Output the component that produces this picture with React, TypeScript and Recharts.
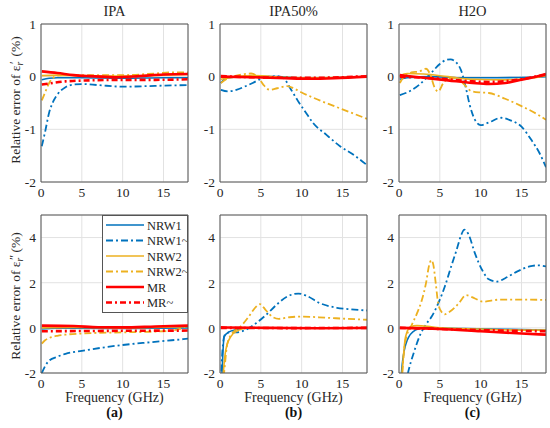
import { LineChart, Line, XAxis, YAxis, CartesianGrid, ReferenceLine } from 'recharts';

type Pt = [number, number];

const FONT = "'Liberation Serif', 'Times New Roman', serif";
const FREQ_TICKS = [0, 5, 10, 15];
const RE_TICKS = [-2, -1, 0, 1];
const IM_TICKS = [-2, 0, 2, 4];
const TITLES = ['IPA', 'IPA50%', 'H2O'];
const LETTERS = ['(a)', '(b)', '(c)'];
const NAMES = ['NRW1', 'NRW1~', 'NRW2', 'NRW2~', 'MR', 'MR~'];

// --- IPA, real part ---
const ipaReNrw1: Pt[] = [[0.1, -0.06], [1, -0.03], [2, -0.02], [5, -0.02], [10, -0.03], [15, -0.02], [18, -0.02]];
const ipaReNrw1t: Pt[] = [[0.1, -1.32], [0.5, -1.05], [1, -0.68], [1.5, -0.47], [2, -0.34], [3, -0.2], [4, -0.15], [5, -0.14], [7, -0.16], [10, -0.19], [13, -0.18], [15, -0.17], [18, -0.16]];
const ipaReNrw2: Pt[] = [[0.1, 0.02], [2, 0.03], [5, 0.02], [10, 0.01], [15, 0.03], [18, 0.04]];
const ipaReNrw2t: Pt[] = [[0.1, -0.45], [0.5, -0.3], [1, -0.12], [1.5, -0.02], [2, 0.02], [3, 0.03], [5, 0.03], [10, 0.03], [14, 0.06], [16, 0.08], [18, 0.08]];
const ipaReMr: Pt[] = [[0.1, 0.1], [2, 0.07], [4, 0.03], [6, 0.01], [9, -0.01], [12, 0.01], [15, 0.04], [18, 0.05]];
const ipaReMrt: Pt[] = [[0.1, -0.15], [1, -0.13], [3, -0.09], [6, -0.07], [10, -0.06], [14, -0.06], [18, -0.05]];

// --- IPA50%, real part ---
const ipa50ReNrw1: Pt[] = [[0.1, -0.12], [0.5, -0.05], [1, -0.02], [3, 0], [7, 0], [10, -0.02], [14, -0.02], [18, 0]];
const ipa50ReNrw1t: Pt[] = [[0.1, -0.25], [1, -0.28], [2, -0.25], [3, -0.19], [4, -0.12], [5, -0.04], [6, 0.0], [7, 0.01], [7.8, -0.03], [8.6, -0.22], [9.5, -0.45], [10.5, -0.68], [11.4, -0.88], [13, -1.1], [14.7, -1.32], [16.5, -1.5], [18, -1.68]];
const ipa50ReNrw2: Pt[] = [[0.1, -0.05], [2, 0.0], [4, 0.02], [8, -0.01], [12, -0.02], [18, 0.0]];
const ipa50ReNrw2t: Pt[] = [[0.1, -0.12], [1, -0.03], [2, 0.02], [3, 0.05], [3.8, 0.06], [4.6, 0.0], [5.3, -0.15], [6.1, -0.25], [7, -0.22], [8.2, -0.18], [9, -0.22], [10, -0.3], [12.2, -0.45], [15, -0.62], [18, -0.8]];
const ipa50ReMr: Pt[] = [[0.1, 0.0], [4, -0.01], [8, -0.03], [11, -0.04], [14, -0.03], [18, 0.0]];
const ipa50ReMrt: Pt[] = [[0.1, 0.01], [4, -0.01], [8, -0.02], [12, -0.02], [18, 0.01]];

// --- H2O, real part ---
const h2oReNrw1: Pt[] = [[0.1, -0.05], [1, -0.02], [4, 0], [8, -0.02], [12, -0.02], [16, -0.01], [18, 0.0]];
const h2oReNrw1t: Pt[] = [[0.1, -0.35], [1.5, -0.26], [2.5, -0.15], [3.5, 0.0], [4, 0.08], [5, 0.24], [5.8, 0.32], [6.3, 0.33], [7, 0.27], [7.6, 0.12], [8.2, -0.22], [8.6, -0.5], [9.3, -0.82], [10, -0.92], [11, -0.87], [12.5, -0.78], [13.5, -0.82], [15, -0.95], [16.2, -1.2], [17.2, -1.45], [18, -1.72]];
const h2oReNrw2: Pt[] = [[0.1, 0.02], [1, 0.06], [3, 0.05], [6, 0.0], [9, -0.05], [13, -0.06], [16, -0.03], [18, 0.02]];
const h2oReNrw2t: Pt[] = [[0.1, -0.12], [0.7, 0.02], [1.5, 0.08], [2.5, 0.1], [3.3, 0.15], [3.8, 0.05], [4.4, -0.22], [4.8, -0.28], [5.4, -0.13], [6, -0.04], [7, -0.02], [8, -0.15], [8.8, -0.27], [10, -0.3], [11, -0.31], [13, -0.42], [15, -0.56], [17, -0.72], [18, -0.82]];
const h2oReMr: Pt[] = [[0.1, 0.03], [3, -0.02], [6, -0.07], [9, -0.12], [11, -0.14], [13, -0.12], [15, -0.06], [17, 0.01], [18, 0.05]];
const h2oReMrt: Pt[] = [[0.1, 0.0], [3, -0.02], [6, -0.05], [9, -0.09], [11, -0.1], [14, -0.07], [16, -0.02], [18, 0.04]];

// --- IPA, imaginary part ---
const ipaImNrw1: Pt[] = [[0.1, -0.05], [2, -0.02], [8, -0.03], [14, -0.02], [18, 0.0]];
const ipaImNrw1t: Pt[] = [[0.1, -2.0], [0.5, -1.7], [1, -1.45], [2, -1.28], [3, -1.15], [5, -1.02], [8, -0.85], [10, -0.76], [13, -0.65], [16, -0.55], [18, -0.48]];
const ipaImNrw2: Pt[] = [[0.1, 0.0], [4, 0.02], [10, 0.0], [15, 0.03], [18, 0.05]];
const ipaImNrw2t: Pt[] = [[0.1, -0.7], [0.5, -0.55], [1, -0.45], [2, -0.35], [3, -0.3], [5, -0.25], [10, -0.2], [15, -0.15], [17, -0.05], [18, 0.15]];
const ipaImMr: Pt[] = [[0.1, 0.1], [4, 0.08], [7, 0.03], [10, 0.02], [14, 0.06], [18, 0.1]];
const ipaImMrt: Pt[] = [[0.1, -0.15], [5, -0.14], [10, -0.13], [18, -0.12]];

// --- IPA50%, imaginary part ---
const ipa50ImNrw1: Pt[] = [[0.1, -3.5], [0.25, -2.0], [0.5, -0.4], [1.1, -0.18], [2.3, -0.05], [3, 0.0], [10, 0.0], [18, -0.02]];
const ipa50ImNrw1t: Pt[] = [[0.1, -2.6], [0.3, -1.0], [0.6, -0.3], [1.2, -0.2], [2, -0.2], [3.1, -0.1], [4.4, 0.2], [5.6, 0.56], [7, 1.05], [8.2, 1.38], [9.6, 1.52], [10.6, 1.42], [12.2, 1.1], [14.3, 0.89], [16, 0.82], [18, 0.77]];
const ipa50ImNrw2: Pt[] = [[0.1, -3.5], [0.4, -2.0], [0.7, -1.0], [1.3, -0.4], [2.3, -0.1], [3.5, 0.0], [18, 0.0]];
const ipa50ImNrw2t: Pt[] = [[0.1, -3.5], [0.5, -2.0], [0.9, -0.7], [1.5, -0.24], [2.5, 0.05], [3.5, 0.49], [4.4, 0.93], [4.9, 1.05], [5.6, 0.79], [6.4, 0.49], [7.2, 0.4], [8.5, 0.47], [10, 0.5], [13, 0.45], [15.5, 0.4], [18, 0.36]];
const ipa50ImMr: Pt[] = [[0.1, 0.02], [6, 0.0], [12, -0.02], [18, 0.0]];
const ipa50ImMrt: Pt[] = [[0.1, 0.0], [9, -0.01], [18, 0.0]];

// --- H2O, imaginary part ---
const h2oImNrw1: Pt[] = [[0.1, -3.0], [0.4, -1.6], [1, -0.55], [2, -0.1], [3, 0.0], [8, -0.03], [13, -0.06], [18, -0.1]];
const h2oImNrw1t: Pt[] = [[0.1, -4.0], [1.1, -2.0], [1.9, -1.0], [2.6, -0.3], [3.3, 0.15], [4, 0.5], [4.8, 1.08], [5.6, 1.82], [6.45, 2.79], [7.05, 3.45], [7.6, 4.1], [8, 4.35], [8.5, 4.15], [9.3, 3.3], [10.2, 2.55], [11, 2.15], [12, 2.05], [13, 2.2], [14.5, 2.5], [16, 2.72], [17, 2.77], [18, 2.72]];
const h2oImNrw2: Pt[] = [[0.1, -4.0], [0.4, -2.0], [0.8, -0.4], [1.4, 0.04], [2.2, 0.1], [3.5, 0.07], [5, 0.0], [10, -0.05], [15, -0.1], [18, -0.1]];
const h2oImNrw2t: Pt[] = [[0.1, -4.0], [0.4, -2.0], [0.8, -0.55], [1.55, 0.12], [2.2, 0.64], [2.8, 1.23], [3.3, 1.97], [3.7, 2.79], [3.95, 3.0], [4.2, 2.8], [4.5, 1.97], [4.8, 1.08], [5.2, 0.71], [5.6, 0.6], [6.2, 0.71], [7.3, 1.08], [8.2, 1.45], [9.3, 1.3], [10.3, 1.16], [12.3, 1.25], [15, 1.25], [18, 1.24]];
const h2oImMr: Pt[] = [[0.1, 0.0], [5, -0.05], [10, -0.15], [15, -0.25], [18, -0.3]];
const h2oImMrt: Pt[] = [[0.1, 0.0], [5, -0.05], [10, -0.1], [18, -0.15]];

const STYLES = [
  { color: '#0072BD', width: 1.6, dash: undefined },
  { color: '#0072BD', width: 1.8, dash: '7 3 2 3' },
  { color: '#EDB120', width: 1.6, dash: undefined },
  { color: '#EDB120', width: 1.8, dash: '7 3 2 3' },
  { color: '#FF0000', width: 2.6, dash: undefined },
  { color: '#FF0000', width: 2.6, dash: '6 3 2 3' },
];

const PANELS = [
  [ipaReNrw1, ipaReNrw1t, ipaReNrw2, ipaReNrw2t, ipaReMr, ipaReMrt],
  [ipa50ReNrw1, ipa50ReNrw1t, ipa50ReNrw2, ipa50ReNrw2t, ipa50ReMr, ipa50ReMrt],
  [h2oReNrw1, h2oReNrw1t, h2oReNrw2, h2oReNrw2t, h2oReMr, h2oReMrt],
  [ipaImNrw1, ipaImNrw1t, ipaImNrw2, ipaImNrw2t, ipaImMr, ipaImMrt],
  [ipa50ImNrw1, ipa50ImNrw1t, ipa50ImNrw2, ipa50ImNrw2t, ipa50ImMr, ipa50ImMrt],
  [h2oImNrw1, h2oImNrw1t, h2oImNrw2, h2oImNrw2t, h2oImMr, h2oImMrt],
];

const COL_X = [41, 220, 399];
const ROW_Y = [24, 215];
const PW = 147;
const PH = 158;
const ML = 30, MT = 10, MR = 4, MB = 22;
const AXIS = '#555';
const TXT = '#262626';
const tickStyle = { fontSize: 13.5, fill: TXT, fontFamily: FONT };

function Panel({ series, left, top, domain, ticks }: { series: Pt[][]; left: number; top: number; domain: [number, number]; ticks: number[] }) {
  return (
    <div style={{ position: 'absolute', left: left - ML, top: top - MT }}>
      <LineChart width={PW + ML + MR} height={PH + MT + MB} margin={{ top: MT, right: MR, bottom: 0, left: 0 }}
        style={{ fontFamily: FONT }}>
        <CartesianGrid stroke="#e2e2e2" strokeWidth={1} />
        <XAxis type="number" dataKey="f" domain={[0, 18]} ticks={FREQ_TICKS} allowDataOverflow
          height={MB} tickLine={false} tickSize={3} axisLine={{ stroke: AXIS }} tick={tickStyle} interval={0} />
        <YAxis type="number" domain={domain} ticks={ticks} allowDataOverflow
          width={ML} tickLine={false} tickSize={3} axisLine={{ stroke: AXIS }} tick={tickStyle} interval={0} />
        {series.map((pts, i) => (
          <Line key={NAMES[i]} name={NAMES[i]} data={pts.map(([f, y]) => ({ f, y }))} dataKey="y" type="monotone"
            dot={false} activeDot={false} stroke={STYLES[i].color} strokeWidth={STYLES[i].width}
            strokeDasharray={STYLES[i].dash} isAnimationActive={false} />
        ))}
        <ReferenceLine y={domain[1]} stroke={AXIS} />
        <ReferenceLine x={18} stroke={AXIS} />
      </LineChart>
    </div>
  );
}

// rotated axis title with ε, a prime above and an italic r below
function YLabel({ cx, cy, prime }: { cx: number; cy: number; prime: string }) {
  return (
    <div style={{ position: 'absolute', left: cx, top: cy, transform: 'translate(-50%,-50%) rotate(-90deg)', whiteSpace: 'nowrap', fontSize: 13.5, color: TXT, lineHeight: 1 }}>
      Relative error of ε
      <span style={{ display: 'inline-block', position: 'relative', width: 9, height: '1em' }}>
        <span style={{ position: 'absolute', left: 1.5, top: 2, fontSize: 12.5 }}>{prime}</span>
        <span style={{ position: 'absolute', left: 0, top: 10, fontSize: 9.5, fontStyle: 'italic' }}>r</span>
      </span>
      (%)
    </div>
  );
}

function LegendBox() {
  const rowH = 15.5;
  return (
    <div style={{ position: 'absolute', left: 102, top: 215, width: 86, height: 98, background: '#fff', border: `1px solid ${AXIS}`, boxSizing: 'border-box' }}>
      <svg width={84} height={96} style={{ display: 'block', fontFamily: FONT }}>
        {NAMES.map((n, i) => (
          <g key={n}>
            <line x1={3} x2={41} y1={9 + i * rowH} y2={9 + i * rowH} stroke={STYLES[i].color}
              strokeWidth={STYLES[i].width} strokeDasharray={STYLES[i].dash} />
            <text x={44} y={9 + i * rowH + 4.5} fontSize={12.5} fill={TXT}>{n}</text>
          </g>
        ))}
      </svg>
    </div>
  );
}

export default function App() {
  return (
    <div style={{ position: 'absolute', left: 0, top: 0, width: 550, height: 428, background: '#fff', fontFamily: FONT, overflow: 'hidden' }}>
      {PANELS.map((series, k) => {
        const col = k % 3;
        const row = Math.floor(k / 3);
        return (
          <Panel key={k} series={series} left={COL_X[col]} top={ROW_Y[row]}
            domain={row === 0 ? [-2, 1] : [-2, 5]} ticks={row === 0 ? RE_TICKS : IM_TICKS} />
        );
      })}
      {TITLES.map((t, i) => (
        <div key={t} style={{ position: 'absolute', left: COL_X[i] + PW / 2, top: 11, transform: 'translate(-50%,-50%)', fontSize: 14.5, color: TXT, whiteSpace: 'nowrap' }}>{t}</div>
      ))}
      {LETTERS.map((t, i) => (
        <div key={t}>
          <div style={{ position: 'absolute', left: COL_X[i] + PW / 2, top: 398, transform: 'translate(-50%,-50%)', fontSize: 14, color: TXT, whiteSpace: 'nowrap' }}>Frequency (GHz)</div>
          <div style={{ position: 'absolute', left: COL_X[i] + PW / 2, top: 413, transform: 'translate(-50%,-50%)', fontSize: 14, fontWeight: 'bold', color: '#111' }}>{t}</div>
        </div>
      ))}
      <YLabel cx={14} cy={100} prime="′" />
      <YLabel cx={14} cy={296} prime="″" />
      <LegendBox />
    </div>
  );
}
